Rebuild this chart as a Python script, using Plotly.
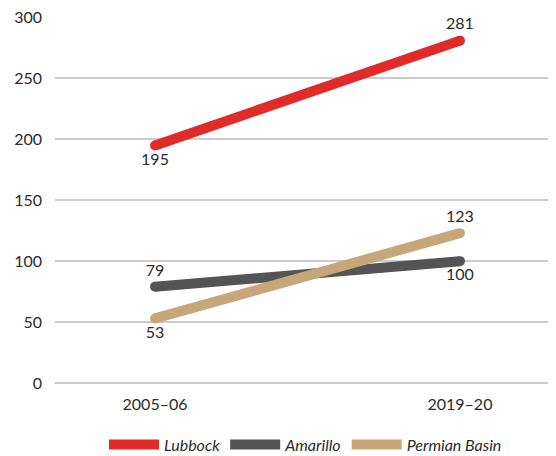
import plotly.graph_objects as go

periods = ["2005–06", "2019–20"]
series_names = ["Lubbock", "Amarillo", "Permian Basin"]
lubbock = [195, 281]
amarillo = [79, 100]
permian = [53, 123]
y_ticks = [0, 50, 100, 150, 200, 250, 300]

colors = ["#e12a2a", "#545454", "#c5a779"]
label_pos = [["bottom center", "top center"],
             ["top center", "bottom center"],
             ["bottom center", "top center"]]

FONT = "Lato, Open Sans, sans-serif"
xs = list(range(len(periods)))

fig = go.Figure()
for name, vals, col, pos in zip(series_names, [lubbock, amarillo, permian], colors, label_pos):
    fig.add_trace(go.Scatter(
        x=xs, y=vals, mode="lines", name=name,
        line=dict(color=col, width=10),
        hoverinfo="skip",
    ))
    fig.add_trace(go.Scatter(
        x=xs, y=vals, mode="markers+text", showlegend=False,
        marker=dict(color=col, size=10, line=dict(width=0)),
        text=[str(v) for v in vals], textposition=pos,
        textfont=dict(family=FONT, size=16, color="#2b2b2b"),
        cliponaxis=False, hoverinfo="skip",
    ))

fig.update_layout(
    width=548, height=448,
    margin=dict(l=47, r=0, t=9, b=73, autoexpand=False),
    paper_bgcolor="white", plot_bgcolor="white",
    font=dict(family=FONT, size=16, color="#2b2b2b"),
    xaxis=dict(
        range=[-0.328, 1.315], tickvals=xs, ticktext=periods,
        showgrid=False, zeroline=False, showline=False, automargin=False,
        ticks="", ticklen=0, tickfont=dict(size=16, color="#2b2b2b"),
        ticklabelstandoff=10,
    ),
    yaxis=dict(
        range=[0, 300.4], tickvals=y_ticks, automargin=False,
        showgrid=True, gridcolor="#cccccc", gridwidth=1.5,
        zeroline=True, zerolinecolor="#cccccc", zerolinewidth=1.5,
        showline=False, ticks="", tickfont=dict(size=16, color="#2b2b2b"),
        ticklabelstandoff=12, ticklabeloverflow="allow",
    ),
    legend=dict(
        orientation="h", x=0.5, xanchor="center", y=-0.168, yanchor="middle",
        font=dict(family=FONT, size=16, color="#2b2b2b", style="italic"),
        itemwidth=50, traceorder="normal",
    ),
)

fig.write_html("out.html")
